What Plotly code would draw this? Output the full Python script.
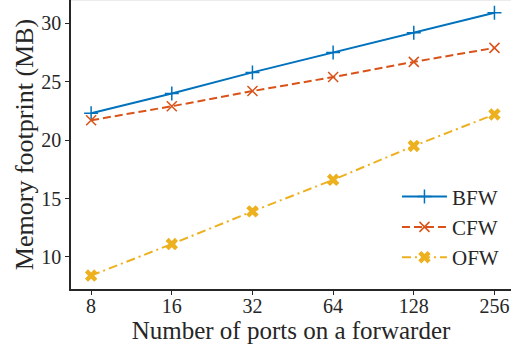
import plotly.graph_objects as go

ports = [8, 16, 32, 64, 128, 256]
tick_labels = ["8", "16", "32", "64", "128", "256"]
bfw = [22.3, 24.0, 25.8, 27.5, 29.2, 30.9]
cfw = [21.7, 22.9, 24.2, 25.4, 26.7, 27.9]
ofw = [8.4, 11.1, 13.9, 16.6, 19.5, 22.2]

FONT = "Liberation Serif"
fig = go.Figure()
fig.add_trace(go.Scatter(x=ports, y=bfw, name="BFW", mode="lines+markers",
                         line=dict(color="#0072BD", width=2),
                         marker=dict(symbol="cross-thin", size=10,
                                     line=dict(color="#0072BD", width=1.5))))
fig.add_trace(go.Scatter(x=ports, y=cfw, name="CFW", mode="lines+markers",
                         line=dict(color="#D95319", width=2, dash="8px,4px"),
                         marker=dict(symbol="x-thin", size=10,
                                     line=dict(color="#D95319", width=1.5))))
fig.add_trace(go.Scatter(x=ports, y=ofw, name="OFW", mode="lines+markers",
                         line=dict(color="#EDB120", width=2, dash="9px,4px,2px,4px"),
                         marker=dict(symbol="x", size=11, color="#EDB120")))

fig.update_layout(
    width=511, height=353,
    margin=dict(l=71, r=0, t=0, b=64, autoexpand=False),
    paper_bgcolor="white", plot_bgcolor="white",
    font=dict(family=FONT, size=20, color="#262626"),
    showlegend=True,
    legend=dict(x=0.984, y=0.04, xanchor="right", yanchor="bottom",
                bgcolor="rgba(0,0,0,0)", font=dict(size=21, family=FONT),
                tracegroupgap=0, itemwidth=45),
    xaxis=dict(type="log", tickvals=ports, ticktext=tick_labels,
               range=[0.828, 2.47], showgrid=False, zeroline=False,
               showline=True, linecolor="#262626", linewidth=1.5,
               ticks="outside", ticklen=4, tickcolor="#262626",
               ticklabelstandoff=-6,
               title=dict(text="Number of ports on a forwarder", font=dict(size=25, family=FONT), standoff=0)),
    yaxis=dict(range=[7.25, 32], tickvals=[10, 15, 20, 25, 30], showgrid=False, zeroline=False,
               showline=True, linecolor="#262626", linewidth=1.5,
               ticks="outside", ticklen=4, tickcolor="#262626",
               title=dict(text="Memory footprint (MB)", font=dict(size=26, family=FONT), standoff=0)),
)
fig.add_shape(type="line", xref="paper", yref="paper", x0=0, x1=1, y0=1, y1=1,
              line=dict(color="#e6e6e6", width=1.5))
fig.write_html("out.html", post_script="document.body.style.margin='0';",
               config={"displayModeBar": False})
